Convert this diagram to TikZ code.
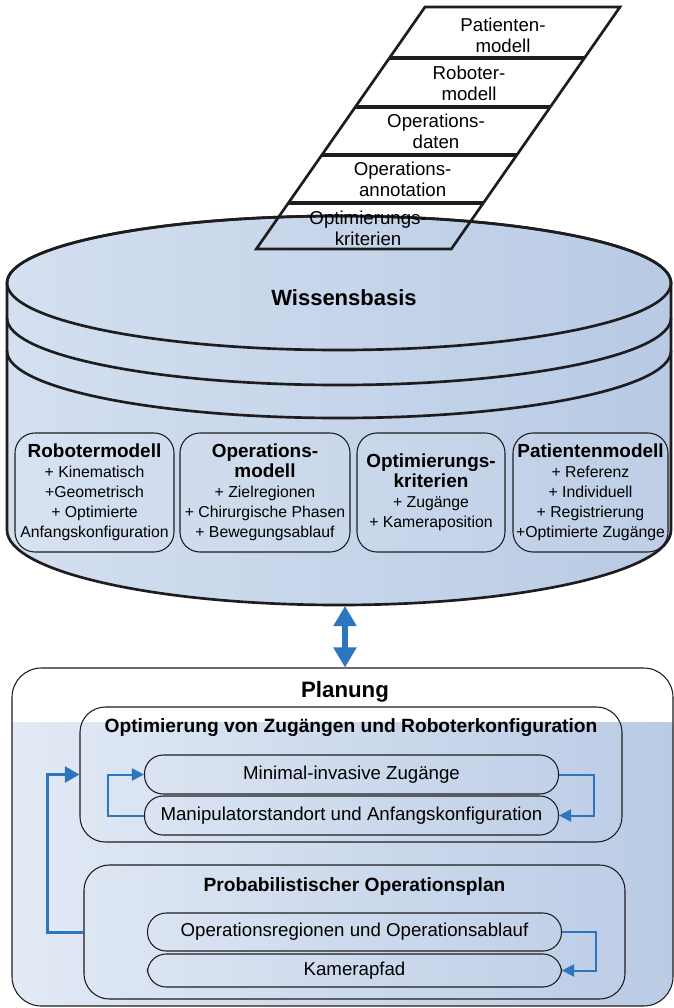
\documentclass[tikz,border=0pt]{standalone}
\usepackage{fontspec}
\setmainfont{Liberation Sans}
\usetikzlibrary{arrows.meta}
\definecolor{arrblue}{RGB}{46,117,191}
\definecolor{cylL}{RGB}{212,224,240}
\definecolor{cylR}{RGB}{184,202,228}
\definecolor{plL}{RGB}{226,234,245}
\definecolor{plR}{RGB}{186,203,229}
\definecolor{edge}{RGB}{30,28,30}
\begin{document}
\begin{tikzpicture}[x=0.75pt,y=-0.75pt,
  ptxt/.style={font=\fontsize{14}{16}\selectfont, align=center, inner sep=0pt},
  kbox/.style={draw=edge, line width=0.8pt, rounded corners=15pt, minimum height=89.25pt,
    inner sep=0pt, align=center, font=\fontsize{11.85}{15}\selectfont, fill=white, fill opacity=0.08, text opacity=1},
  ibox/.style={draw=edge, line width=0.8pt, rounded corners=19pt, inner sep=0pt},
  pill/.style={draw=edge, line width=0.8pt, rounded corners=14pt, inner sep=0pt, minimum width=310.5pt,
    font=\fontsize{14}{16}\selectfont},
  btitle/.style={font=\bfseries\fontsize{14.4}{16}\selectfont, inner sep=0pt},
  loopa/.style={draw=arrblue, line width=1.5pt, -{Triangle[length=9pt,width=9pt]}},
  loopb/.style={draw=arrblue, line width=2.25pt, -{Triangle[length=11pt,width=12pt]}},
  dblarrow/.style={draw=arrblue, line width=5pt, {Triangle[length=15pt,width=16.5pt]}-{Triangle[length=15pt,width=16.5pt]}}
]
\newcommand{\kt}[1]{{\bfseries\fontsize{14.2}{15}\selectfont #1}}
\useasboundingbox (0,0) rectangle (674,1008);

% ---------- stack of input sheets (background fill) ----------
\fill[white] (425,7) -- (620,7) -- (451.3,249) -- (256.3,249) -- cycle;

% ---------- Wissensbasis cylinder ----------
\shade[left color=cylL, right color=cylR, draw=edge, line width=2pt]
  (7,283) -- (7,530) arc[start angle=180, end angle=0, x radius=332, y radius=75]
  -- (671,283) arc[start angle=0, end angle=-180, x radius=332, y radius=67] -- cycle;
\draw[edge, line width=2pt] (339,283) ellipse[x radius=332, y radius=67];
\draw[edge, line width=2pt] (7,318) arc[start angle=180, end angle=0, x radius=332, y radius=67];
\draw[edge, line width=2pt] (7,351) arc[start angle=180, end angle=0, x radius=332, y radius=67];

% ---------- sheet outlines and separators ----------
\draw[edge, line width=2pt, line join=miter] (425,7) -- (620,7) -- (451.3,249) -- (256.3,249) -- cycle;
\draw[edge, line width=3.5pt] (389.4,58) -- (584.4,58);
\draw[edge, line width=3.5pt] (355.3,107) -- (550.3,107);
\draw[edge, line width=3.5pt] (321.8,155) -- (516.8,155);
\draw[edge, line width=3.5pt] (288.4,203) -- (483.4,203);

\node[ptxt] (s1) at (503,35) {Patienten-\\modell};
\node[ptxt] (s2) at (469,83.5) {Roboter-\\modell};
\node[ptxt] (s3) at (436,131) {Operations-\\daten};
\node[ptxt] (s4) at (402.6,179) {Operations-\\annotation};
\node[ptxt] (s5) at (368.1,228.5) {Optimierungs-\\kriterien};

\node[font=\bfseries\fontsize{16.5}{18}\selectfont, inner sep=0pt] (wb) at (344,298) {Wissensbasis};

% ---------- model boxes ----------
\node[kbox, minimum width=119.25pt] (rm) at (94.5,492.5)
  {\kt{Robotermodell}\\+ Kinematisch\\+Geometrisch\\+ Optimierte\\Anfangskonfiguration};
\node[kbox, minimum width=127.5pt] (om) at (265,492.5)
  {\kt{Operations-}\\\kt{modell}\\+ Zielregionen\\+ Chirurgische Phasen\\+ Bewegungsablauf};
\node[kbox, minimum width=111pt] (ok) at (431,492.5)
  {\kt{Optimierungs-}\\\kt{kriterien}\\+ Zugänge\\+ Kameraposition};
\node[kbox, minimum width=116.25pt] (pm) at (590.5,492.5)
  {\kt{Patientenmodell}\\+ Referenz\\+ Individuell\\+ Registrierung\\+Optimierte Zugänge};

% ---------- Planung ----------
\fill[white, rounded corners=22pt] (12,668) rectangle (673,1006);
\begin{scope}
  \clip[rounded corners=22pt] (12,668) rectangle (673,1006);
  \shade[left color=plL, right color=plR] (10,722) rectangle (676,1008);
\end{scope}
\node[draw=edge, line width=0.8pt, rounded corners=22pt, minimum width=495.75pt, minimum height=253.5pt, inner sep=0pt] (plan) at (342.5,837) {};
\node[font=\bfseries\fontsize{16.7}{18}\selectfont, inner sep=0pt] (planlbl) at (345,692) {Planung};

\node[ibox, minimum width=406.5pt, minimum height=101.25pt] (opt) at (351,774.5) {};
\node[btitle] (optlbl) at (351,728) {Optimierung von Zugängen und Roboterkonfiguration};
\node[pill, minimum height=29.25pt] (p1) at (351.5,774.5) {Minimal-invasive Zugänge};
\node[pill, minimum height=29.25pt] (p2) at (351.5,815.5) {Manipulatorstandort und Anfangskonfiguration};

\node[ibox, minimum width=405.75pt, minimum height=100.5pt] (prob) at (354.5,932) {};
\node[btitle] (problbl) at (354.5,887) {Probabilistischer Operationsplan};
\node[pill, minimum height=28.5pt] (p3) at (354.5,932) {Operationsregionen und Operationsablauf};
\node[pill, minimum height=24.75pt] (p4) at (354.5,970.5) {Kamerapfad};

% ---------- connectors ----------
\draw[loopa] (p1.east) -- ++(35,0) |- (p2.east);
\draw[loopa] (p2.west) -- ++(-36,0) |- (p1.west);
\draw[loopa] (p3.east) -- ++(34,0) |- (p4.east);
\draw[loopb] (prob.west) -- ++(-36,0) |- (opt.west);

\coordinate (cylbot) at (345,606);
\draw[dblarrow] (cylbot) -- (cylbot |- plan.north);
\end{tikzpicture}
\end{document}
